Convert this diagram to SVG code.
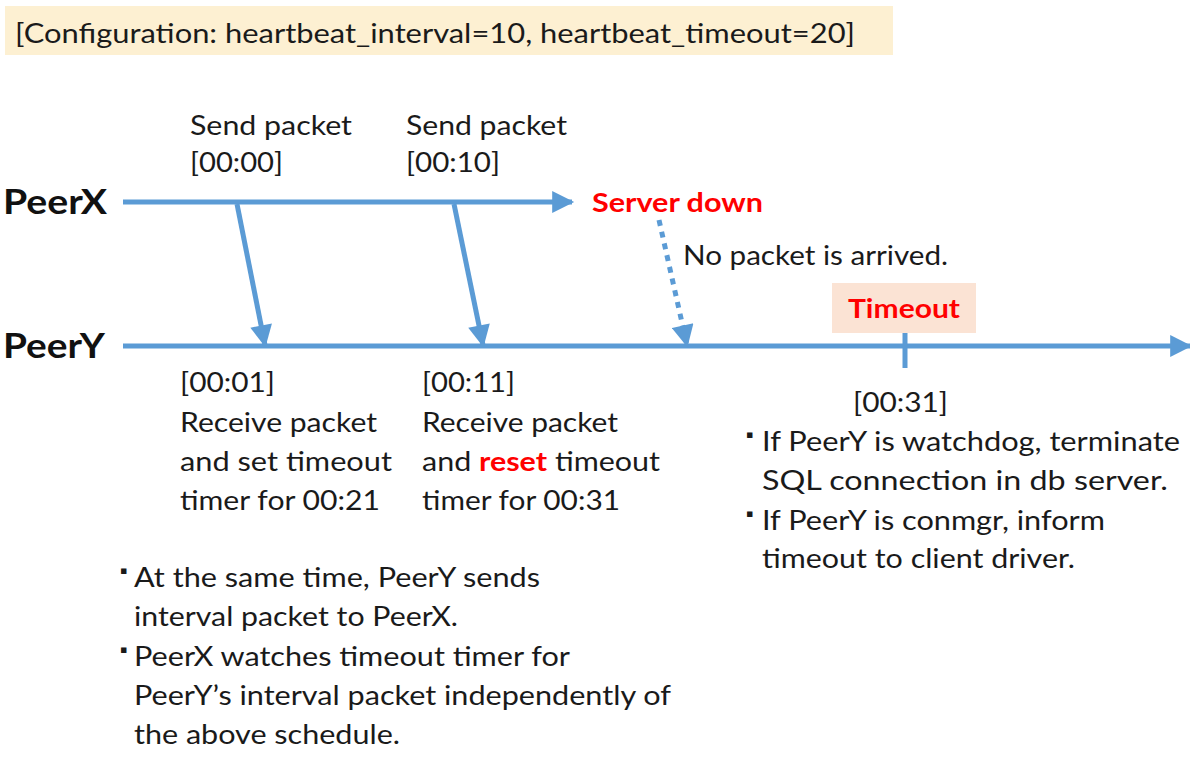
<svg xmlns="http://www.w3.org/2000/svg" width="1190" height="758" viewBox="0 0 1190 758">
<style>
text{font-family:Lato,"Open Sans","Liberation Sans",sans-serif;fill:#1a1a1a}
.t{font-size:26px}
.b{font-size:34px;font-weight:bold;fill:#111}
.r{fill:#ff0000;font-weight:bold}
.bl{font-size:11px;font-family:"DejaVu Sans",sans-serif}
.ln{stroke:#5b9bd5;stroke-width:5;fill:none}
</style>
<defs>
<marker id="ah" viewBox="0 0 10 10" refX="9" refY="5" markerWidth="5" markerHeight="4.4" markerUnits="strokeWidth" orient="auto">
<path d="M0,0 L10,5 L0,10 z" fill="#5b9bd5"/>
</marker>
</defs>
<rect x="0" y="0" width="1190" height="758" fill="#fff"/>
<g id="config">
<rect x="5" y="6" width="888" height="49" fill="#fdf0d2"/>
<text class="t" x="15" y="43" font-size="28" textLength="840" lengthAdjust="spacingAndGlyphs">[Configuration: heartbeat_interval=10, heartbeat_timeout=20]</text>
</g>
<g id="connectors">
<line class="ln" x1="123" y1="202" x2="572" y2="202" marker-end="url(#ah)"/>
<line class="ln" x1="123" y1="346" x2="1190" y2="346" marker-end="url(#ah)"/>
<line class="ln" x1="237" y1="204" x2="265" y2="345" marker-end="url(#ah)"/>
<line class="ln" x1="454" y1="204" x2="483" y2="345" marker-end="url(#ah)"/>
<line class="ln" x1="659" y1="220" x2="687" y2="345" stroke-dasharray="6,6" marker-end="url(#ah)"/>
<line class="ln" x1="905" y1="333" x2="905" y2="368" stroke-width="3"/>
</g>
<g id="peerx"><text class="b" x="3" y="214" textLength="104" lengthAdjust="spacingAndGlyphs">PeerX</text></g>
<g id="peery"><text class="b" x="3" y="358" textLength="102" lengthAdjust="spacingAndGlyphs">PeerY</text></g>
<g id="send1">
<text class="t" x="190" y="135" textLength="162" lengthAdjust="spacingAndGlyphs">Send packet</text>
<text class="t" x="190" y="172" textLength="93" lengthAdjust="spacingAndGlyphs">[00:00]</text>
</g>
<g id="send2">
<text class="t" x="406" y="135" textLength="161" lengthAdjust="spacingAndGlyphs">Send packet</text>
<text class="t" x="406" y="172" textLength="94" lengthAdjust="spacingAndGlyphs">[00:10]</text>
</g>
<g id="serverdown"><text class="t r" x="592" y="212" textLength="171" lengthAdjust="spacingAndGlyphs">Server down</text></g>
<g id="nopacket"><text class="t" x="683" y="265" textLength="265" lengthAdjust="spacingAndGlyphs">No packet is arrived.</text></g>
<g id="timeout">
<rect x="832" y="283" width="144" height="50" fill="#fbe3d4"/>
<text class="t r" x="848" y="318" textLength="112" lengthAdjust="spacingAndGlyphs">Timeout</text>
</g>
<g id="recv1">
<text class="t" x="180" y="392" textLength="95" lengthAdjust="spacingAndGlyphs">[00:01]</text>
<text class="t" x="180" y="432" textLength="197" lengthAdjust="spacingAndGlyphs">Receive packet</text>
<text class="t" x="180" y="471" textLength="212" lengthAdjust="spacingAndGlyphs">and set timeout</text>
<text class="t" x="180" y="510" textLength="200" lengthAdjust="spacingAndGlyphs">timer for 00:21</text>
</g>
<g id="recv2">
<text class="t" x="422" y="392" textLength="93" lengthAdjust="spacingAndGlyphs">[00:11]</text>
<text class="t" x="422" y="432" textLength="196" lengthAdjust="spacingAndGlyphs">Receive packet</text>
<text class="t" x="422" y="471" textLength="238" lengthAdjust="spacingAndGlyphs">and <tspan class="r">reset</tspan> timeout</text>
<text class="t" x="422" y="510" textLength="198" lengthAdjust="spacingAndGlyphs">timer for 00:31</text>
</g>
<g id="result">
<text class="t" x="853" y="412" textLength="95" lengthAdjust="spacingAndGlyphs">[00:31]</text>
<text class="bl" x="746" y="438">▪</text>
<text class="t" x="762" y="451" textLength="418" lengthAdjust="spacingAndGlyphs">If PeerY is watchdog, terminate</text>
<text class="t" x="762" y="490" textLength="406" lengthAdjust="spacingAndGlyphs">SQL connection in db server.</text>
<text class="bl" x="746" y="517">▪</text>
<text class="t" x="762" y="530" textLength="343" lengthAdjust="spacingAndGlyphs">If PeerY is conmgr, inform</text>
<text class="t" x="762" y="568" textLength="313" lengthAdjust="spacingAndGlyphs">timeout to client driver.</text>
</g>
<g id="notes">
<text class="bl" x="120" y="574">▪</text>
<text class="t" x="134" y="587" textLength="406" lengthAdjust="spacingAndGlyphs">At the same time, PeerY sends</text>
<text class="t" x="134" y="626" textLength="324" lengthAdjust="spacingAndGlyphs">interval packet to PeerX.</text>
<text class="bl" x="120" y="653">▪</text>
<text class="t" x="134" y="666" textLength="436" lengthAdjust="spacingAndGlyphs">PeerX watches timeout timer for</text>
<text class="t" x="134" y="705" textLength="537" lengthAdjust="spacingAndGlyphs">PeerY’s interval packet independently of</text>
<text class="t" x="134" y="744" textLength="266" lengthAdjust="spacingAndGlyphs">the above schedule.</text>
</g>
</svg>
